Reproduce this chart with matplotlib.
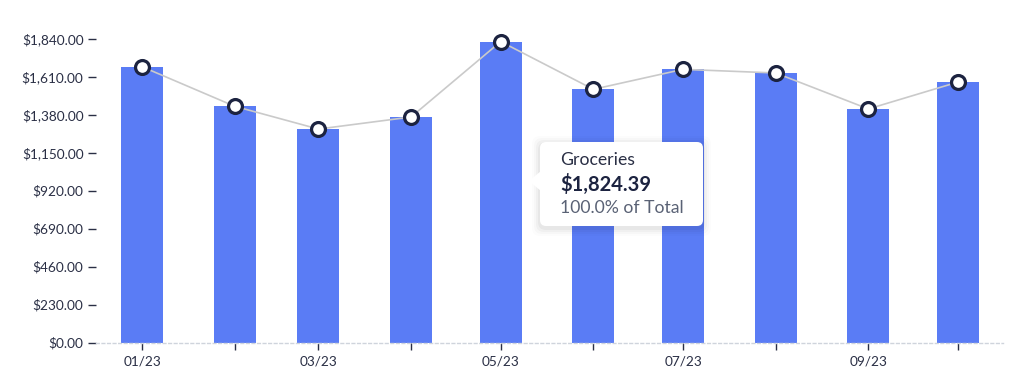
import numpy as np
import pandas as pd
import matplotlib
matplotlib.use("Agg")
import matplotlib.pyplot as plt
from matplotlib.patches import FancyBboxPatch, Polygon
from matplotlib.transforms import IdentityTransform

# Monthly spending (Groceries)
months = ["2023-01-01", "2023-02-01", "2023-03-01", "2023-04-01", "2023-05-01",
          "2023-06-01", "2023-07-01", "2023-08-01", "2023-09-01", "2023-10-01"]
spend = [1672, 1432, 1294, 1367, 1824.39, 1535, 1656, 1634, 1416, 1579]
y_ticks = [0, 230, 460, 690, 920, 1150, 1380, 1610, 1840]

tip_category = "Groceries"
tip_value = "$1,824.39"
tip_share = "100.0% of Total"

plt.rcParams['font.family'] = ['Lato', 'DejaVu Sans']
text_color = "#2a2f45"
bar_color = "#5a7cf5"

dates = pd.to_datetime(months)

fig = plt.figure(figsize=(10.24, 3.92), dpi=100)
ax = fig.add_axes([96 / 1024, 1 - 342.5 / 392, 907 / 1024, 303.5 / 392])

ax.bar(dates, spend, width=14, color=bar_color, zorder=2)
ax.plot(dates, spend, color="#cacaca", lw=1.2, zorder=3, clip_on=False)  # trend line
ax.plot(dates, spend, 'o', ms=10, mfc="white", mec="#1c2340", mew=2.3,
        zorder=4, clip_on=False)

ax.set_xlim(dates[0] - pd.Timedelta(days=15.4), dates[-1] + pd.Timedelta(days=15.05))
ax.set_ylim(0, 1840)

ax.set_yticks(y_ticks)
ax.set_yticklabels(["${:,.2f}".format(v) for v in y_ticks])
ax.set_xticks(dates)
ax.set_xticklabels([d.strftime("%m/%y") if i % 2 == 0 else "" for i, d in enumerate(dates)])

ax.tick_params(axis='y', length=6, width=1, color=text_color, labelcolor=text_color,
               labelsize=9.8, pad=3)
ax.tick_params(axis='x', length=5, width=1, color=text_color, labelcolor=text_color,
               labelsize=9.8, pad=4)

for side in ["top", "right", "left"]:
    ax.spines[side].set_visible(False)
ax.spines["bottom"].set_color("#cfd4dc")
ax.spines["bottom"].set_linestyle((0, (2, 2)))
ax.spines["bottom"].set_linewidth(1)

# tooltip, drawn in pixel coordinates
H = 392
x0, x1, ytop, ybot = 540, 703, 142, 226
for i, a in enumerate([0.035, 0.028, 0.02, 0.012]):
    pad = 2 + i * 2
    sh = FancyBboxPatch((x0, H - ybot - 2), x1 - x0, ybot - ytop,
                        boxstyle="round,pad=%d,rounding_size=8" % pad,
                        transform=IdentityTransform(), fc="black", ec="none",
                        alpha=a, zorder=8)
    fig.add_artist(sh)
box = FancyBboxPatch((x0, H - ybot), x1 - x0, ybot - ytop,
                     boxstyle="round,pad=0,rounding_size=6",
                     transform=IdentityTransform(), fc="white", ec="none", zorder=9)
fig.add_artist(box)
tri = Polygon([(529, H - 181), (541, H - 171), (541, H - 191)], closed=True,
              transform=IdentityTransform(), fc="white", ec="none", zorder=9)
fig.add_artist(tri)

fig.text(560 / 1024, 1 - 160 / H, tip_category, fontsize=12.7, color=text_color,
         va="center", ha="left", zorder=10)
fig.text(560 / 1024, 1 - 184 / H, tip_value, fontsize=14.5, color="#1c2340",
         fontweight="bold", va="center", ha="left", zorder=10)
fig.text(560 / 1024, 1 - 208 / H, tip_share, fontsize=12.7, color="#5a6275",
         va="center", ha="left", zorder=10)

fig.savefig("out.png", dpi=100)
